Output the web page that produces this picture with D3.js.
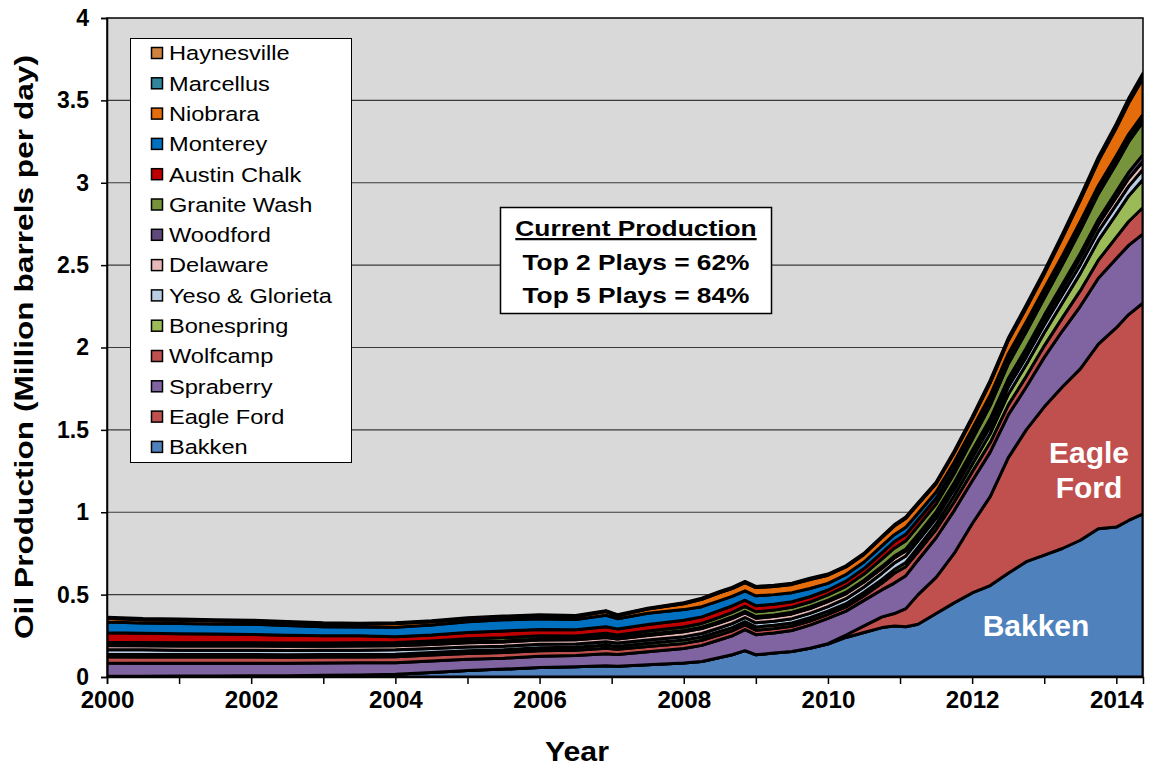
<!DOCTYPE html>
<html>
<head>
<meta charset="utf-8">
<script src="https://cdn.jsdelivr.net/npm/d3@7"></script>
<style>
  html, body { margin: 0; padding: 0; background: #ffffff; }
  svg { display: block; font-family: "Liberation Sans", Arial, sans-serif; }
</style>
</head>
<body>
<svg id="chart" width="1151" height="767"></svg>
<script>
// ---------- DATA (million barrels per day) ----------
const years = [2000, 2000.5, 2001, 2001.5, 2002, 2002.5, 2003, 2003.5, 2004, 2004.5,
  2005, 2005.5, 2006, 2006.5, 2006.92, 2007.08, 2007.5, 2008, 2008.25, 2008.5,
  2008.67, 2008.85, 2009, 2009.25, 2009.5, 2009.75, 2010, 2010.25, 2010.5, 2010.75,
  2010.92, 2011.08, 2011.25, 2011.5, 2011.75, 2012, 2012.25, 2012.5, 2012.75, 2013,
  2013.25, 2013.5, 2013.75, 2014, 2014.17, 2014.37];

const bakken = [.005,.005,.006,.006,.007,.008,.010,.012,.016,.028,
  .040,.048,.058,.062,.068,.066,.075,.085,.094,.118,
  .135,.160,.135,.145,.155,.175,.200,.240,.270,.300,
  .310,.305,.320,.385,.450,.510,.555,.630,.700,.740,
  .780,.830,.900,.910,.950,.990];
const eagleFord = [0,0,0,0,0,0,0,0,0,0,
  0,0,0,0,0,0,0,0,0,0,
  0,0,0,0,0,0,.002,.015,.040,.065,
  .075,.110,.180,.220,.300,.420,.540,.700,.800,.900,
  .980,1.040,1.120,1.210,1.250,1.280];
const spraberry = [.080,.079,.078,.078,.077,.076,.075,.074,.070,.069,
  .068,.066,.068,.068,.073,.070,.078,.088,.098,.108,
  .115,.128,.122,.122,.127,.140,.154,.145,.155,.165,
  .185,.200,.210,.240,.260,.260,.270,.260,.260,.300,
  .340,.380,.400,.420,.420,.420];
const wolfcamp = [.038,.038,.037,.037,.037,.036,.036,.036,.037,.036,
  .035,.035,.034,.033,.033,.032,.032,.031,.031,.030,
  .030,.028,.027,.027,.026,.025,.024,.025,.028,.040,
  .060,.055,.050,.050,.052,.055,.058,.060,.065,.070,
  .080,.095,.110,.130,.145,.160];
const bonespring = [.015,.015,.015,.015,.015,.015,.015,.015,.015,.015,
  .016,.016,.018,.018,.020,.019,.020,.020,.020,.020,
  .020,.020,.020,.020,.020,.020,.020,.020,.021,.022,
  .022,.025,.028,.032,.038,.045,.055,.065,.072,.080,
  .090,.105,.120,.140,.155,.170];
const yeso = [.028,.028,.027,.027,.027,.026,.026,.026,.027,.025,
  .023,.022,.021,.020,.020,.019,.020,.021,.021,.023,
  .024,.025,.025,.025,.026,.026,.027,.030,.032,.038,
  .040,.040,.038,.036,.038,.040,.042,.045,.046,.048,
  .050,.053,.055,.057,.058,.060];
const delaware = [.025,.025,.025,.025,.025,.025,.025,.025,.025,.025,
  .026,.026,.026,.025,.026,.025,.027,.029,.030,.030,
  .030,.028,.028,.028,.029,.029,.030,.030,.030,.030,
  .030,.030,.028,.027,.028,.030,.030,.032,.033,.035,
  .037,.040,.042,.045,.048,.050];
const woodford = [.005,.005,.005,.005,.005,.005,.005,.005,.005,.005,
  .006,.006,.006,.006,.007,.007,.007,.008,.008,.009,
  .010,.010,.010,.010,.010,.010,.010,.010,.011,.012,
  .012,.012,.012,.012,.013,.015,.017,.018,.020,.022,
  .025,.028,.030,.034,.037,.040];
const graniteWash = [.015,.015,.015,.015,.015,.015,.015,.015,.015,.016,
  .018,.020,.020,.017,.018,.017,.020,.022,.023,.026,
  .028,.030,.029,.029,.030,.030,.031,.035,.038,.045,
  .048,.050,.050,.048,.055,.065,.080,.090,.100,.105,
  .120,.140,.155,.170,.185,.200];
const austinChalk = [.058,.056,.055,.053,.050,.047,.043,.042,.035,.036,
  .038,.040,.038,.038,.040,.037,.040,.040,.040,.040,
  .039,.037,.037,.036,.034,.032,.030,.032,.033,.038,
  .040,.040,.038,.035,.033,.030,.028,.027,.026,.025,
  .024,.023,.022,.021,.020,.020];
const monterey = [.065,.062,.062,.061,.062,.060,.055,.053,.057,.060,
  .065,.068,.065,.062,.070,.062,.068,.065,.062,.060,
  .058,.057,.060,.058,.055,.050,.040,.040,.040,.042,
  .042,.042,.040,.038,.037,.036,.035,.034,.033,.032,
  .030,.030,.028,.027,.026,.025];
const niobrara = [.022,.020,.020,.019,.018,.017,.017,.017,.022,.020,
  .018,.017,.018,.018,.022,.018,.025,.035,.044,.048,
  .048,.050,.050,.050,.050,.055,.050,.046,.046,.050,
  .052,.055,.055,.050,.055,.060,.075,.080,.085,.090,
  .110,.130,.150,.170,.190,.220];
const marcellus = [.002,.002,.002,.002,.002,.002,.002,.002,.002,.002,
  .002,.002,.002,.002,.002,.002,.002,.003,.003,.003,
  .003,.003,.003,.003,.003,.003,.003,.003,.003,.003,
  .003,.003,.003,.003,.004,.004,.005,.005,.006,.006,
  .007,.007,.008,.008,.009,.010];
const haynesville = [.005,.005,.005,.005,.005,.005,.005,.005,.004,.004,
  .004,.004,.004,.004,.004,.004,.004,.004,.004,.004,
  .004,.004,.004,.004,.004,.004,.004,.004,.004,.004,
  .005,.005,.006,.006,.007,.008,.010,.010,.012,.012,
  .013,.014,.015,.016,.018,.020];

// stacking order: bottom -> top
const seriesNames = ["Bakken", "Eagle Ford", "Spraberry", "Wolfcamp", "Bonespring",
  "Yeso & Glorieta", "Delaware", "Woodford", "Granite Wash", "Austin Chalk",
  "Monterey", "Niobrara", "Marcellus", "Haynesville"];
const seriesValues = [bakken, eagleFord, spraberry, wolfcamp, bonespring, yeso,
  delaware, woodford, graniteWash, austinChalk, monterey, niobrara, marcellus, haynesville];
const seriesColors = ["#4f81bd", "#c0504d", "#8064a2", "#c0504d", "#9bbb59",
  "#b9cde5", "#e6b9b8", "#604a7b", "#77933c", "#c00000",
  "#0070c0", "#e46c0a", "#31859c", "#d0823f"];

const yTicks = [0, 0.5, 1, 1.5, 2, 2.5, 3, 3.5, 4];
const xTickYears = d3.range(2000, 2015);
const xLabelYears = [2000, 2002, 2004, 2006, 2008, 2010, 2012, 2014];

// ---------- LAYOUT ----------
const svg = d3.select("#chart");
const plot = { left: 107, right: 1143, top: 18, bottom: 677 };

const x = d3.scaleLinear().domain([2000, 2014.37]).range([plot.left, plot.right]);
const y = d3.scaleLinear().domain([0, 4]).range([plot.bottom, plot.top]);

// widen text glyphs horizontally (the original rendering is slightly wider than Arial)
function widen(sel, f) {
  sel.each(function () {
    const w = this.getComputedTextLength();
    if (w > 0) {
      d3.select(this).attr("textLength", w * f).attr("lengthAdjust", "spacingAndGlyphs");
    }
  });
}

const table = years.map((yr, i) => {
  const row = { year: yr };
  seriesNames.forEach((n, k) => { row[n] = seriesValues[k][i]; });
  return row;
});
const stacked = d3.stack().keys(seriesNames)(table);

// background
svg.append("rect")
  .attr("x", plot.left).attr("y", plot.top)
  .attr("width", plot.right - plot.left).attr("height", plot.bottom - plot.top)
  .attr("fill", "#d9d9d9");

// gridlines
svg.append("g").selectAll("line")
  .data(yTicks.filter(d => d > 0 && d < 4))
  .join("line")
  .attr("x1", plot.left).attr("x2", plot.right)
  .attr("y1", d => y(d)).attr("y2", d => y(d))
  .attr("stroke", "#3a3a3a").attr("stroke-width", 1.2);

svg.append("clipPath").attr("id", "clip")
  .append("rect")
  .attr("x", plot.left).attr("y", plot.top)
  .attr("width", plot.right - plot.left).attr("height", plot.bottom - plot.top);

const area = d3.area()
  .x(d => x(d.data.year))
  .y0(d => y(d[0]))
  .y1(d => y(d[1]));

svg.append("g").attr("clip-path", "url(#clip)")
  .selectAll("path")
  .data(stacked)
  .join("path")
  .attr("d", area)
  .attr("fill", (d, i) => seriesColors[i])
  .attr("stroke", "#000")
  .attr("stroke-width", 3)
  .attr("stroke-linejoin", "round");

// plot border
svg.append("rect")
  .attr("x", plot.left).attr("y", plot.top)
  .attr("width", plot.right - plot.left).attr("height", plot.bottom - plot.top)
  .attr("fill", "none").attr("stroke", "#000").attr("stroke-width", 1.5);

// axes
const yAxis = svg.append("g")
  .attr("transform", `translate(${plot.left},0)`)
  .call(d3.axisLeft(y).tickValues(yTicks).tickFormat(d => d).tickSize(6).tickPadding(12));
yAxis.select(".domain").attr("stroke", "#000").attr("stroke-width", 1.5);
yAxis.selectAll(".tick line").attr("stroke", "#000").attr("stroke-width", 1.5);
yAxis.selectAll("text").attr("font-size", 23).attr("font-weight", "bold").attr("fill", "#000")
  .attr("font-family", "'Liberation Sans', Arial, sans-serif");

const xAxis = svg.append("g")
  .attr("transform", `translate(0,${plot.bottom})`)
  .call(d3.axisBottom(x).tickValues(xTickYears)
    .tickFormat(d => xLabelYears.includes(d) ? String(d) : "").tickSize(7).tickPadding(8));
xAxis.select(".domain").attr("stroke", "#000").attr("stroke-width", 1.5);
xAxis.selectAll(".tick line").attr("stroke", "#000").attr("stroke-width", 1.5);
xAxis.selectAll("text").attr("font-size", 23).attr("font-weight", "bold").attr("fill", "#000")
  .attr("font-family", "'Liberation Sans', Arial, sans-serif");
widen(xAxis.selectAll("text"), 1.05);

// axis titles
const yTitle = svg.append("text")
  .attr("transform", "translate(33,347) rotate(-90)")
  .attr("text-anchor", "middle")
  .attr("font-size", 26).attr("font-weight", "bold")
  .text("Oil Production (Million barrels per day)");
yTitle.attr("textLength", 584).attr("lengthAdjust", "spacingAndGlyphs");

const xTitle = svg.append("text")
  .attr("x", 577).attr("y", 761)
  .attr("text-anchor", "middle")
  .attr("font-size", 27).attr("font-weight", "bold")
  .text("Year");
widen(xTitle, 1.12);

// legend
const legend = svg.append("g");
legend.append("rect")
  .attr("x", 130.5).attr("y", 38.5).attr("width", 221).attr("height", 424)
  .attr("fill", "#fff").attr("stroke", "#000").attr("stroke-width", 1);
const legendOrder = seriesNames.map((n, i) => i).reverse();
const li = legend.selectAll("g.item").data(legendOrder).join("g")
  .attr("class", "item")
  .attr("transform", (d, j) => `translate(0,${53 + j * 30.3})`);
li.append("rect")
  .attr("x", 151.5).attr("y", -5.5).attr("width", 11).attr("height", 11)
  .attr("fill", d => seriesColors[d]).attr("stroke", "#000").attr("stroke-width", 1.5);
const liText = li.append("text")
  .attr("x", 169).attr("y", 0).attr("dy", "0.36em")
  .attr("font-size", 20.5)
  .text(d => seriesNames[d]);
widen(liText, 1.15);

// annotation box
const ann = svg.append("g");
ann.append("rect")
  .attr("x", 500.5).attr("y", 207.5).attr("width", 271).attr("height", 106)
  .attr("fill", "#fff").attr("stroke", "#000").attr("stroke-width", 1.5);
const annLines = ["Current Production", "Top 2 Plays = 62%", "Top 5 Plays = 84%"];
const annText = ann.selectAll("text.a").data(annLines).join("text")
  .attr("class", "a")
  .attr("x", 636).attr("y", (d, i) => 236 + i * 33.5)
  .attr("text-anchor", "middle")
  .attr("font-size", 22.5).attr("font-weight", "bold")
  .attr("text-decoration", (d, i) => i === 0 ? "underline" : null)
  .text(d => d);
widen(annText, 1.17);

// in-plot labels
const lab = svg.append("g").attr("fill", "#fff").attr("font-weight", "bold")
  .attr("font-size", 30).attr("text-anchor", "middle");
lab.append("text").attr("x", 1089).attr("y", 463).text("Eagle");
lab.append("text").attr("x", 1089).attr("y", 498).text("Ford");
lab.append("text").attr("x", 1036).attr("y", 636).text("Bakken");
</script>
</body>
</html>
